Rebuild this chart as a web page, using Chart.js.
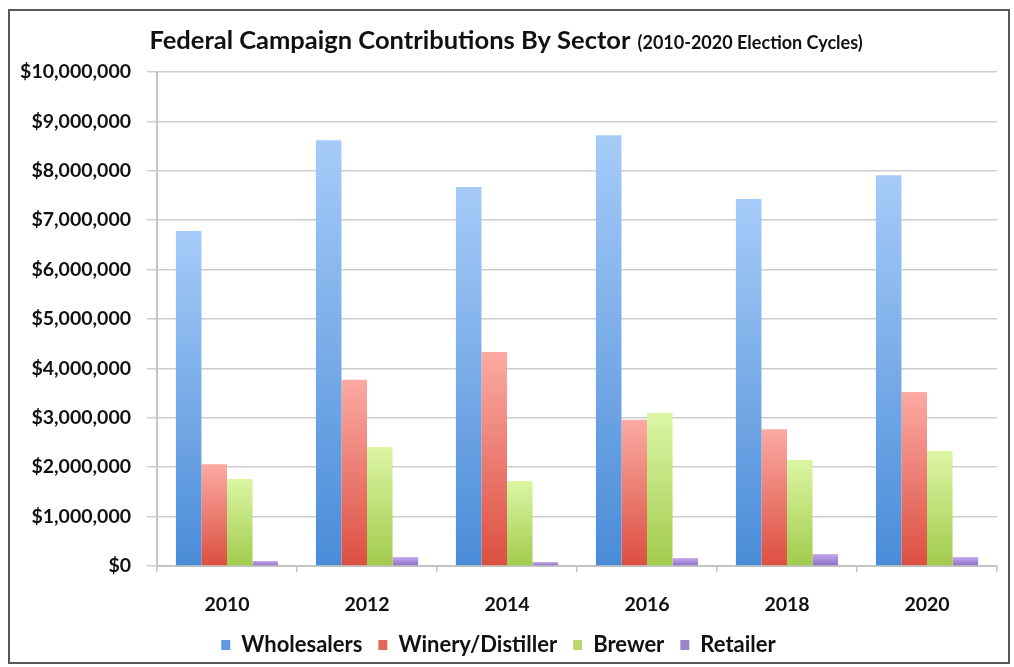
<!DOCTYPE html>
<html>
<head>
<meta charset="utf-8">
<title>Federal Campaign Contributions By Sector</title>
<script src="https://cdn.jsdelivr.net/npm/chart.js@4.4.1/dist/chart.umd.min.js"></script>
<style>
  html, body { margin: 0; padding: 0; background: #fff; }
  #wrap { width: 1014px; height: 667px; }
</style>
</head>
<body>
<div id="wrap"><canvas id="sectorChart" width="1014" height="667"></canvas></div>
<script>
// election cycles and contributions per sector (US dollars)
const cycles = ['2010', '2012', '2014', '2016', '2018', '2020'];
const wholesalers = [6780000, 8620000, 7670000, 8720000, 7430000, 7910000];
const wineryDistiller = [2060000, 3770000, 4330000, 2960000, 2770000, 3520000];
const brewer = [1760000, 2410000, 1720000, 3100000, 2150000, 2330000];
const retailer = [100000, 180000, 80000, 160000, 240000, 180000];

const sectorNames = ['Wholesalers', 'Winery/Distiller', 'Brewer', 'Retailer'];
const yTicks = [0, 1000000, 2000000, 3000000, 4000000, 5000000, 6000000, 7000000, 8000000, 9000000, 10000000];

const titleMain = 'Federal Campaign Contributions By Sector';
const titleSub = '(2010-2020 Election Cycles)';

// light top / dark bottom for each sector, plus a flat legend swatch
const topColors = ['#a6cbf8', '#fbaaa3', '#dbf6a4', '#c3a9ec'];
const bottomColors = ['#4a8cd8', '#dc4f40', '#a2cb4c', '#8a6cc4'];
const swatchColors = ['#5f98dc', '#e2665c', '#b8d86e', '#9e84cc'];

const FONT = 'Lato, "Open Sans", sans-serif';
const LABEL_SIZE = 19.5;
const LEGEND_SIZE = 22;

function barGradient(i) {
  return function (ctx) {
    const chart = ctx.chart;
    const y = chart.scales && chart.scales.y;
    if (!chart.chartArea || !y || ctx.type !== 'data') return swatchColors[i];
    const top = y.getPixelForValue(ctx.raw);
    const bottom = y.getPixelForValue(0);
    if (!isFinite(top) || bottom - top < 1) return bottomColors[i];
    const g = chart.ctx.createLinearGradient(0, top, 0, bottom);
    g.addColorStop(0, topColors[i]);
    g.addColorStop(1, bottomColors[i]);
    return g;
  };
}

function money(v) {
  return '$' + Number(v).toLocaleString('en-US');
}

// frame around the whole figure and the two-size title line
const framePlugin = {
  id: 'frame',
  beforeLayout(chart) {
    // keep the legend box short so it sits close to the bottom edge
    const lg = chart.legend;
    if (lg && !lg._shortFit) {
      const fit = lg.fit.bind(lg);
      lg.fit = function () { fit(); this.height = 49; };
      lg._shortFit = true;
    }
  },
  beforeDraw(chart) {
    const c = chart.ctx;
    c.save();
    c.fillStyle = '#ffffff';
    c.fillRect(0, 0, chart.width, chart.height);
    c.strokeStyle = '#585858';
    c.lineWidth = 2;
    c.strokeRect(9, 10, 1000, 653);
    c.restore();
  },
  afterDraw(chart) {
    const c = chart.ctx;
    c.save();
    c.fillStyle = '#111';
    c.textBaseline = 'alphabetic';
    c.font = 'bold 25.5px ' + FONT;
    const w1 = c.measureText(titleMain).width;
    c.font = 'bold 18px ' + FONT;
    const w2 = c.measureText(titleSub).width;
    const gap = 7;
    let x = 506 - (w1 + gap + w2) / 2;
    c.textAlign = 'left';
    c.font = 'bold 25.5px ' + FONT;
    c.fillText(titleMain, x, 49);
    c.font = 'bold 18px ' + FONT;
    c.fillText(titleSub, x + w1 + gap, 49);
    c.restore();
  }
};

const seriesValues = [wholesalers, wineryDistiller, brewer, retailer];

new Chart(document.getElementById('sectorChart'), {
  type: 'bar',
  data: {
    labels: cycles,
    datasets: seriesValues.map((vals, i) => ({
      label: sectorNames[i],
      data: vals,
      backgroundColor: barGradient(i),
      borderWidth: 0,
      categoryPercentage: 0.73,
      barPercentage: 1.0
    }))
  },
  options: {
    responsive: false,
    animation: false,
    layout: { padding: { top: 72, right: 17, bottom: 0, left: 0 } },
    plugins: {
      title: { display: false },
      tooltip: { enabled: false },
      legend: {
        position: 'bottom',
        labels: {
          boxWidth: 9,
          boxHeight: 10,
          padding: 16,
          color: '#111',
          font: { family: FONT, size: LEGEND_SIZE, weight: 'bold' },
          generateLabels(chart) {
            const items = Chart.defaults.plugins.legend.labels.generateLabels(chart);
            items.forEach((it, i) => {
              it.fillStyle = swatchColors[i];
              it.strokeStyle = swatchColors[i];
              it.lineWidth = 0;
            });
            return items;
          }
        }
      }
    },
    scales: {
      x: {
        grid: {
          offset: true,
          drawOnChartArea: false,
          drawTicks: true,
          tickLength: 6,
          color: '#c4c4c4',
          lineWidth: 1.5
        },
        border: { color: '#c4c4c4', width: 2 },
        ticks: {
          padding: 21,
          color: '#111',
          font: { family: FONT, size: LABEL_SIZE, weight: 'bold' }
        },
        afterFit(scale) { scale.height = 52; }
      },
      y: {
        min: 0,
        max: 10000000,
        afterBuildTicks(scale) {
          scale.ticks = yTicks.map(v => ({ value: v }));
        },
        grid: {
          color: '#cdcdcd',
          lineWidth: 1.5,
          tickLength: 10
        },
        border: { color: '#c4c4c4', width: 2 },
        ticks: {
          padding: 16,
          color: '#111',
          font: { family: FONT, size: LABEL_SIZE, weight: 'bold' },
          callback: v => money(v)
        },
        afterFit(scale) { scale.width = 157; }
      }
    }
  },
  plugins: [framePlugin]
});
</script>
</body>
</html>
